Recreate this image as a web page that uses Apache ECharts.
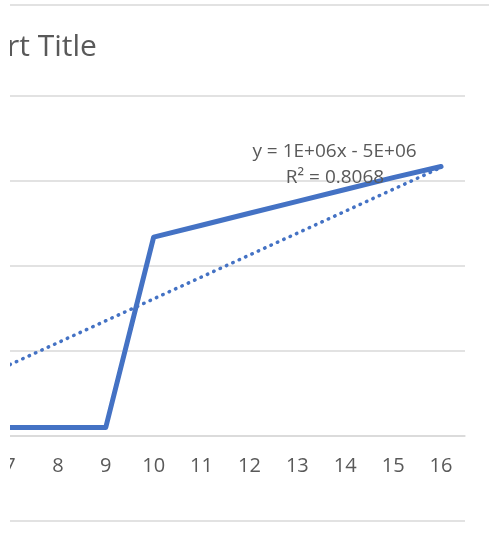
<!DOCTYPE html>
<html><head><meta charset="utf-8">
<script src="https://cdn.jsdelivr.net/npm/echarts@6/dist/echarts.min.js"></script>
<style>
html,body{margin:0;padding:0;background:#fff;overflow:hidden;width:489px;height:548px;}
#wrap{position:absolute;left:10px;top:0;width:479px;height:548px;overflow:hidden;}
#chart{position:absolute;left:-100px;top:0;width:579px;height:548px;}
</style></head>
<body><div id="wrap"><div id="chart"></div></div>
<script>
const categories = ['7','8','9','10','11','12','13','14','15','16'];
const seriesValues = [0.5, 0.5, 0.5, 11.7, 12.4, 13.1, 13.8, 14.5, 15.2, 15.85];
const trendValues = [4.2, null, null, null, null, null, null, null, null, 15.8];
const trendLabel = ['y = 1E+06x - 5E+06', 'R\u00b2 = 0.8068'];
const titleText = 'Chart Title';

const chart = echarts.init(document.getElementById('chart'), null, {renderer:'canvas'});
chart.setOption({
  animation:false,
  backgroundColor:'#fff',
  title:{text:titleText, left:38, top:27, textStyle:{fontFamily:'Open Sans', fontSize:30, fontWeight:'normal', color:'#595959'}},
  grid:{left:76, right:24, top:96, bottom:27, containLabel:false, outerBoundsMode:'none'},
  xAxis:{type:'category', data:categories, boundaryGap:true, offset:-85,
    axisLine:{onZero:false, lineStyle:{color:'#d9d9d9', width:1.5}},
    axisTick:{show:false},
    axisLabel:{color:'#595959', fontFamily:'Open Sans', fontSize:20, margin:20}},
  yAxis:{type:'value', min:-5, max:20, interval:5,
    axisLabel:{show:false}, axisLine:{show:false}, axisTick:{show:false},
    splitLine:{lineStyle:{color:'#d9d9d9', width:1.5}}},
  series:[
    {type:'line', data:seriesValues, symbol:'none', lineStyle:{color:'#4472C4', width:5, cap:'round', join:'round'}, z:3},
    {type:'line', data:trendValues, connectNulls:true, symbol:'none', lineStyle:{color:'#4472C4', width:3.5, type:[0.5,6.5], cap:'round'}, z:2}
  ],
  graphic:[
    {type:'line', shape:{x1:90, y1:5, x2:600, y2:5}, style:{stroke:'#d9d9d9', lineWidth:1.5}, silent:true},
    {type:'text', x:424.5, y:152, style:{text:trendLabel[0], fill:'#595959', font:'19px "Open Sans"', align:'center', verticalAlign:'middle'}, z:10},
    {type:'text', x:425, y:178, style:{text:trendLabel[1], fill:'#595959', font:'19px "Open Sans"', align:'center', verticalAlign:'middle'}, z:10}
  ]
});
</script></body></html>
